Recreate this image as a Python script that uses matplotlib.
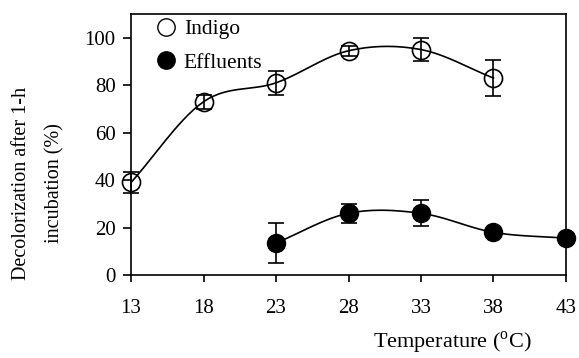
import numpy as np
import matplotlib
matplotlib.use("Agg")
import matplotlib.pyplot as plt
from matplotlib.lines import Line2D

plt.rcParams['font.family'] = ['Liberation Serif', 'DejaVu Serif']
plt.rcParams['mathtext.fontset'] = 'custom'
plt.rcParams['mathtext.rm'] = 'Liberation Serif'

# data
temp_indigo = [13, 18, 23, 28, 33, 38]
indigo = [39, 73, 81, 94.5, 95, 83]
indigo_err = [4.5, 3, 5, 2, 5, 7.5]

temp_eff = [23, 28, 33, 38, 43]
effluents = [13.5, 26, 26, 18, 15.5]
effluents_err = [8.5, 4, 5.5, 1.5, 1.5]


def smooth(x, y, n=30):
    # catmull-rom style smoothing like the spreadsheet line
    x = np.asarray(x, float)
    y = np.asarray(y, float)
    px = np.concatenate([[2 * x[0] - x[1]], x, [2 * x[-1] - x[-2]]])
    py = np.concatenate([[2 * y[0] - y[1]], y, [2 * y[-1] - y[-2]]])
    xs, ys = [], []
    for i in range(1, len(px) - 2):
        t = np.linspace(0, 1, n)
        for p, out in ((px, xs), (py, ys)):
            p0, p1, p2, p3 = p[i - 1], p[i], p[i + 1], p[i + 2]
            out.extend(0.5 * ((2 * p1) + (-p0 + p2) * t
                              + (2 * p0 - 5 * p1 + 4 * p2 - p3) * t ** 2
                              + (-p0 + 3 * p1 - 3 * p2 + p3) * t ** 3))
    return xs, ys


fig = plt.figure(figsize=(5.79, 3.58), dpi=100)
ax = fig.add_axes([0.2263, 0.2318, 0.7512, 0.7291])

sx, sy = smooth(temp_indigo, indigo)
ax.plot(sx, sy, 'k-', lw=1.2)
ax.errorbar(temp_indigo, indigo, yerr=indigo_err, fmt='o', mfc='none', mec='k',
            ms=13, mew=1.2, ecolor='k', elinewidth=1.2, capsize=6, capthick=1.2,
            clip_on=False, zorder=3)

sx, sy = smooth(temp_eff, effluents)
ax.plot(sx, sy, 'k-', lw=1.2)
ax.errorbar(temp_eff, effluents, yerr=effluents_err, fmt='o', mfc='k', mec='k',
            ms=13, ecolor='k', elinewidth=1.2, capsize=6, capthick=1.2,
            clip_on=False, zorder=3)

ax.set_xlim(13, 43)
ax.set_ylim(0, 110)
ax.set_xticks([13, 18, 23, 28, 33, 38, 43])
ax.set_yticks([0, 20, 40, 60, 80, 100])
ax.tick_params(direction='out', width=1.2, labelsize=15)
ax.tick_params(axis='x', length=5, pad=12)
ax.tick_params(axis='y', length=6, pad=5)
for s in ax.spines.values():
    s.set_linewidth(1.2)

fig.text(0.066, 0.489, 'Decolorization after 1-h\nincubation (%)', fontsize=14.5,
         rotation=90, ha='center', va='center', linespacing=2.0)
fig.text(0.781, 0.042, 'Temperature ($^{\\mathrm{o}}$C)', fontsize=16,
         ha='center', va='center')

handles = [Line2D([], [], ls='none', marker='o', ms=12.5, mfc='none', mec='k', mew=1.0),
           Line2D([], [], ls='none', marker='o', ms=12.5, mfc='k', mec='k')]
ax.legend(handles, ['Indigo', 'Effluents'], loc='upper left', frameon=False,
          fontsize=15.5, handletextpad=-0.2, borderaxespad=0.0, borderpad=0.0,
          bbox_to_anchor=(0.032, 0.98), labelspacing=0.62)

fig.savefig('out.png', dpi=100)
